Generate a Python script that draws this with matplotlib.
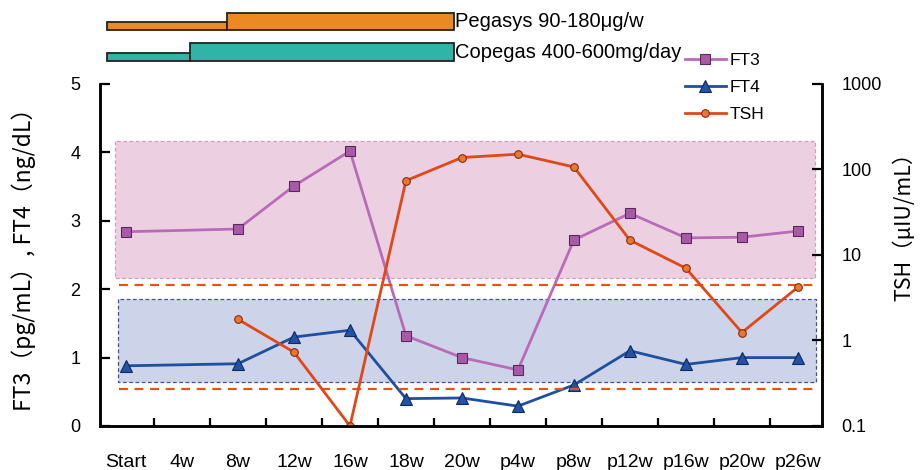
import numpy as np
import matplotlib
matplotlib.use("Agg")
import matplotlib.pyplot as plt
from matplotlib.ticker import NullLocator

plt.rcParams['font.family'] = ['Liberation Sans', 'Noto Sans CJK JP', 'DejaVu Sans']
cjk = ['Noto Sans CJK JP', 'Liberation Sans']

# data
weeks = ['Start', '4w', '8w', '12w', '16w', '18w', '20w',
         'p4w', 'p8w', 'p12w', 'p16w', 'p20w', 'p26w']
ft3 = [2.84, None, 2.88, 3.51, 4.02, 1.32, 1.00, 0.82, 2.72, 3.11, 2.75, 2.76, 2.85]
ft4 = [0.88, None, 0.91, 1.30, 1.40, 0.40, 0.41, 0.29, 0.60, 1.10, 0.90, 1.00, 1.00]
tsh = [None, None, 1.77, 0.73, 0.1, 74, 138, 151, 107, 14.9, 7.0, 1.24, 4.2]

ft3_range = (2.17, 4.16)
ft4_range = (0.65, 1.86)
tsh_range = (0.27, 4.5)

# treatment bars: (start, end, thickness) in category units
pegasys = [(-0.34, 1.8, 8), (1.8, 5.85, 17)]
copegas = [(-0.34, 1.14, 8), (1.14, 5.85, 18)]

xlim = (-0.464, 12.43)

fig = plt.figure(figsize=(9.24, 4.7), dpi=100)
ax = fig.add_axes([100/924, 1-426/470, 722/924, 342/470])
ax2 = ax.twinx()

x = np.arange(len(weeks))

def valid(vals):
    a = np.array([np.nan if v is None else v for v in vals], dtype=float)
    m = ~np.isnan(a)
    return x[m], a[m]

# normal range bands
ax.fill_between([-0.2, 12.3], ft3_range[0], ft3_range[1], facecolor='#ecd0e2',
                edgecolor='#d49ac4', linestyle=(0, (3, 2)), linewidth=0.9, zorder=0)
ax.fill_between([-0.15, 12.33], ft4_range[0], ft4_range[1], facecolor='#cdd3e8',
                edgecolor='#3a55a0', linestyle=(0, (3, 2)), linewidth=0.9, zorder=0)
for v in tsh_range:
    ax2.plot([-0.13, 12.35], [v, v], color='#e2531f', linestyle=(0, (4, 3)), linewidth=1.6)

xx, yy = valid(ft3)
l1, = ax.plot(xx, yy, color='#b86cb8', linewidth=2, marker='s', markersize=7,
              markerfacecolor='#a85aa8', markeredgecolor='#5a2a5a', markeredgewidth=0.8, label='FT3')
xx, yy = valid(ft4)
l2, = ax.plot(xx, yy, color='#1f4f9f', linewidth=2, marker='^', markersize=8,
              markerfacecolor='#2452a2', markeredgecolor='#0f2a60', markeredgewidth=0.8, label='FT4')
xx, yy = valid(tsh)
l3, = ax2.plot(xx, yy, color='#e04818', linewidth=2, marker='o', markersize=5.5,
               markerfacecolor='#e8782e', markeredgecolor='#8a2a10', markeredgewidth=0.8, label='TSH')

ax.set_xlim(xlim)
ax.set_ylim(0, 5)
ax2.set_yscale('log')
ax2.set_ylim(0.1, 1000)
ax2.set_yticks([0.1, 1, 10, 100, 1000])
ax2.set_yticklabels(['0.1', '1', '10', '100', '1000'])
ax2.yaxis.set_minor_locator(NullLocator())

ax.set_xticks(x)
ax.set_xticklabels(weeks)
ax.set_xticks(x[:-1] + 0.5, minor=True)
ax.tick_params(axis='x', which='major', length=0, pad=20, labelsize=14)
ax.tick_params(axis='x', which='minor', direction='in', length=6, width=1.6)
ax.set_yticks([0, 1, 2, 3, 4, 5])
ax.tick_params(axis='y', direction='in', length=7, width=1.6, pad=14, labelsize=13)
ax2.tick_params(axis='y', direction='in', length=7, width=1.6, pad=14, labelsize=13)

for a in (ax, ax2):
    a.spines['top'].set_visible(False)
    for s in ('left', 'right', 'bottom'):
        a.spines[s].set_linewidth(1.8)

fig.text(0.026, 0.46, 'FT3（pg/mL）, FT4（ng/dL）', rotation=90, ha='center', va='center',
         fontsize=16.5, family=cjk)
fig.text(0.978, 0.53, 'TSH（μIU/mL）', rotation=90, ha='center', va='center',
         fontsize=15.5, family=cjk)

ax.legend([l1, l2, l3], ['FT3', 'FT4', 'TSH'], loc='upper left', bbox_to_anchor=(0.80, 1.11),
          frameon=False, fontsize=12.5, handlelength=2.4, labelspacing=0.68, handletextpad=0.2,
          borderaxespad=0)

# treatment bars on top
axb = fig.add_axes([100/924, 1-65/470, 722/924, 55/470])
axb.set_xlim(xlim)
axb.set_ylim(0, 55)
axb.axis('off')
for rows, base, color, label in [(pegasys, 35, '#eb8a22', 'Pegasys 90-180μg/w'),
                                  (copegas, 4, '#30b4a8', 'Copegas 400-600mg/day')]:
    for s, e, h in rows:
        axb.bar(s, h, width=e - s, bottom=base, align='edge', color=color,
                edgecolor='#222222', linewidth=1.3)
    axb.text(rows[-1][1] + 0.03, base + rows[-1][2] / 2, label, ha='left', va='center',
             fontsize=14.5, family=['Liberation Sans', 'Noto Sans CJK JP'])

fig.savefig('out.png', dpi=100)
